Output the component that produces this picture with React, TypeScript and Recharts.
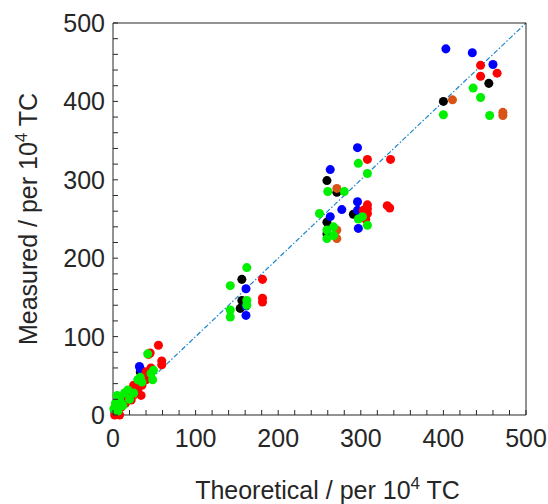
import { ScatterChart, Scatter, XAxis, YAxis, ZAxis, ReferenceLine } from "recharts";

type Pt = { x: number; y: number };

const minorTicks = [0, 20, 40, 60, 80, 100, 120, 140, 160, 180, 200, 220, 240, 260, 280, 300, 320, 340, 360, 380, 400, 420, 440, 460, 480, 500];
const labelTicks = [0, 100, 200, 300, 400, 500];

const bluePts: Pt[] = [
  { x: 2, y: 5 }, { x: 5, y: 12 }, { x: 8, y: 18 }, { x: 12, y: 22 }, { x: 15, y: 25 },
  { x: 20, y: 28 }, { x: 25, y: 32 }, { x: 28, y: 35 }, { x: 33, y: 59 }, { x: 32, y: 62 },
  { x: 161, y: 161 }, { x: 161, y: 139 }, { x: 161, y: 127 },
  { x: 296, y: 341 }, { x: 263, y: 313 }, { x: 277, y: 262 }, { x: 263, y: 253 },
  { x: 296, y: 272 }, { x: 296, y: 261 }, { x: 297, y: 238 },
  { x: 403, y: 467 }, { x: 435, y: 462 }, { x: 460, y: 447 },
];

const blackPts: Pt[] = [
  { x: 3, y: 10 }, { x: 10, y: 20 }, { x: 20, y: 30 }, { x: 33, y: 55 },
  { x: 156, y: 173 }, { x: 156, y: 146 }, { x: 154, y: 136 },
  { x: 259, y: 299 }, { x: 271, y: 284 }, { x: 259, y: 246 }, { x: 291, y: 256 }, { x: 259, y: 231 },
  { x: 400, y: 400 }, { x: 455, y: 423 },
];

const orangePts: Pt[] = [
  { x: 12, y: 20 }, { x: 25, y: 25 }, { x: 30, y: 40 }, { x: 43, y: 77 },
  { x: 271, y: 289 }, { x: 271, y: 236 }, { x: 271, y: 225 },
  { x: 411, y: 402 }, { x: 472, y: 386 }, { x: 472, y: 382 },
];

const redPts: Pt[] = [
  { x: 2, y: 0 }, { x: 5, y: 3 }, { x: 8, y: 0 }, { x: 10, y: 10 }, { x: 15, y: 15 },
  { x: 18, y: 20 }, { x: 22, y: 19 }, { x: 22, y: 30 }, { x: 25, y: 38 }, { x: 30, y: 32 },
  { x: 34, y: 25 }, { x: 35, y: 38 }, { x: 40, y: 45 }, { x: 40, y: 55 }, { x: 45, y: 50 },
  { x: 46, y: 60 }, { x: 45, y: 79 }, { x: 55, y: 89 }, { x: 59, y: 69 }, { x: 59, y: 64 },
  { x: 181, y: 173 }, { x: 181, y: 149 }, { x: 181, y: 144 },
  { x: 303, y: 261 }, { x: 308, y: 326 }, { x: 336, y: 326 }, { x: 332, y: 267 }, { x: 335, y: 264 },
  { x: 308, y: 268 }, { x: 308, y: 263 }, { x: 308, y: 257 }, { x: 306, y: 250 },
  { x: 445, y: 446 }, { x: 445, y: 432 }, { x: 465, y: 436 },
];

const greenPts: Pt[] = [
  { x: 1, y: 8 }, { x: 3, y: 15 }, { x: 6, y: 5 }, { x: 8, y: 22 }, { x: 10, y: 15 },
  { x: 12, y: 12 }, { x: 14, y: 28 }, { x: 18, y: 32 }, { x: 20, y: 20 }, { x: 25, y: 28 },
  { x: 30, y: 45 }, { x: 33, y: 48 }, { x: 35, y: 42 }, { x: 42, y: 78 }, { x: 46, y: 53 },
  { x: 48, y: 45 }, { x: 49, y: 57 }, { x: 5, y: 25 },
  { x: 162, y: 188 }, { x: 142, y: 165 }, { x: 162, y: 146 }, { x: 142, y: 134 }, { x: 142, y: 125 }, { x: 162, y: 140 },
  { x: 297, y: 321 }, { x: 260, y: 285 }, { x: 280, y: 285 }, { x: 250, y: 257 }, { x: 297, y: 250 },
  { x: 267, y: 240 }, { x: 259, y: 236 }, { x: 259, y: 225 }, { x: 267, y: 229 }, { x: 308, y: 308 },
  { x: 308, y: 242 }, { x: 302, y: 253 },
  { x: 436, y: 417 }, { x: 445, y: 405 }, { x: 400, y: 383 }, { x: 456, y: 382 },
];

const FONT = "'Liberation Sans', Arial, Helvetica, sans-serif";
const INK = "#262626";
const TICK_LEN = 5;
const FS = 25;

// ticks point inward on all four sides; labels only every 100
const BottomTick = (p: any) => (
  <g>
    <line x1={p.x} x2={p.x} y1={p.y} y2={p.y - TICK_LEN} stroke={INK} />
    {labelTicks.includes(p.payload.value) && (
      <text x={p.x} y={p.y + 32} textAnchor="middle" fontSize={FS} fill={INK} fontFamily={FONT}>
        {p.payload.value}
      </text>
    )}
  </g>
);

const LeftTick = (p: any) => (
  <g>
    <line x1={p.x} x2={p.x + TICK_LEN} y1={p.y} y2={p.y} stroke={INK} />
    {labelTicks.includes(p.payload.value) && (
      <text x={p.x - 8} y={p.y + 9} textAnchor="end" fontSize={FS} fill={INK} fontFamily={FONT}>
        {p.payload.value}
      </text>
    )}
  </g>
);

const TopTick = (p: any) => <line x1={p.x} x2={p.x} y1={p.y} y2={p.y + TICK_LEN} stroke={INK} />;
const RightTick = (p: any) => <line x1={p.x} x2={p.x - TICK_LEN} y1={p.y} y2={p.y} stroke={INK} />;

const XTitle = (props: any) => {
  const vb = props.viewBox;
  return (
    <text x={vb.x + vb.width / 2 + 8} y={vb.y + 84} textAnchor="middle" fontSize={FS} fill={INK} fontFamily={FONT}>
      Theoretical / per 10<tspan dy={-10} fontSize={17}>4</tspan>
      <tspan dy={10}> TC</tspan>
    </text>
  );
};

const YTitle = (props: any) => {
  const vb = props.viewBox;
  const cx = 37;
  const cy = vb.y + vb.height / 2;
  return (
    <text x={cx} y={cy} textAnchor="middle" fontSize={FS} fill={INK} fontFamily={FONT} transform={`rotate(-90 ${cx} ${cy})`}>
      Measured / per 10<tspan dy={-10} fontSize={17}>4</tspan>
      <tspan dy={10}> TC</tspan>
    </text>
  );
};

export default function App() {
  return (
    <div style={{ position: "absolute", left: 0, top: 0, background: "#fff" }}>
      <ScatterChart width={548} height={504} margin={{ top: 22, right: 21, bottom: 0, left: 0 }}>
        <XAxis
          xAxisId="b"
          dataKey="x"
          type="number"
          domain={[0, 500]}
          ticks={minorTicks}
          interval={0}
          height={89}
          tickSize={0}
          tickMargin={0}
          tickLine={false}
          axisLine={{ stroke: INK }}
          tick={<BottomTick />}
          label={{ content: <XTitle /> }}
        />
        <XAxis
          xAxisId="t"
          orientation="top"
          type="number"
          domain={[0, 500]}
          ticks={minorTicks}
          interval={0}
          height={1}
          tickSize={0}
          tickMargin={0}
          tickLine={false}
          axisLine={{ stroke: INK }}
          tick={<TopTick />}
        />
        <YAxis
          yAxisId="l"
          dataKey="y"
          type="number"
          domain={[0, 500]}
          ticks={minorTicks}
          interval={0}
          width={113}
          tickSize={0}
          tickMargin={0}
          tickLine={false}
          axisLine={{ stroke: INK }}
          tick={<LeftTick />}
          label={{ content: <YTitle /> }}
        />
        <YAxis
          yAxisId="r"
          orientation="right"
          type="number"
          domain={[0, 500]}
          ticks={minorTicks}
          interval={0}
          width={1}
          tickSize={0}
          tickMargin={0}
          tickLine={false}
          axisLine={{ stroke: INK }}
          tick={<RightTick />}
        />
        <ZAxis range={[75, 75]} />

        <Scatter xAxisId="b" yAxisId="l" data={blackPts} fill="#000000" isAnimationActive={false} />
        <Scatter xAxisId="b" yAxisId="l" data={bluePts} fill="#0000ff" isAnimationActive={false} />
        <Scatter xAxisId="b" yAxisId="l" data={orangePts} fill="#d95319" isAnimationActive={false} />
        <Scatter xAxisId="b" yAxisId="l" data={redPts} fill="#ff0000" isAnimationActive={false} />
        <Scatter xAxisId="b" yAxisId="l" data={greenPts} fill="#00f000" isAnimationActive={false} />

        {/* 1:1 line */}
        <ReferenceLine
          xAxisId="b"
          yAxisId="l"
          segment={[{ x: 0, y: 0 }, { x: 500, y: 500 }]}
          stroke="#1f86cc"
          strokeWidth={1.2}
          strokeDasharray="5 2 1.5 2"
        />
      </ScatterChart>
    </div>
  );
}
